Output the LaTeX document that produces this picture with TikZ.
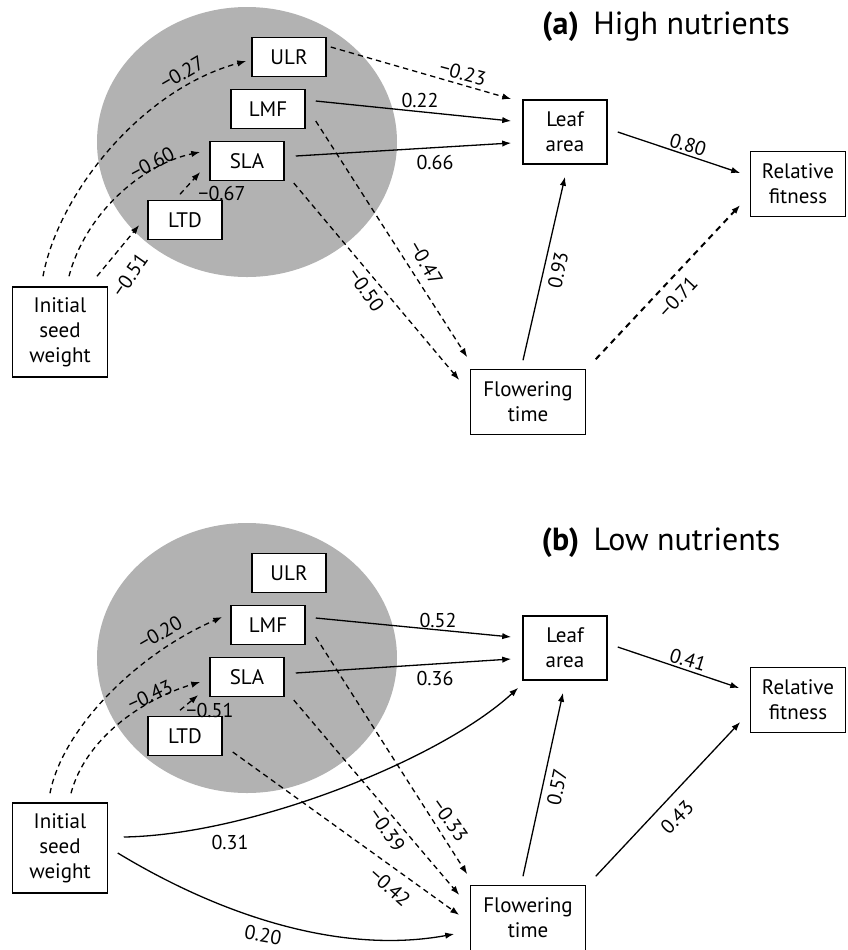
\documentclass[tikz,border=0pt]{standalone}
\usepackage{fontspec}
\setmainfont{PT Sans}
\usetikzlibrary{arrows.meta}

\tikzset{
  box/.style={draw,line width=0.75pt,fill=white,inner sep=0pt,align=center,
    minimum width=37pt,minimum height=19.5pt,font=\fontsize{10.5}{12.5}\selectfont},
  eff/.style={line width=0.65pt,-{Latex[length=4.5pt,width=3.2pt]}},
  negeff/.style={eff,dash pattern=on 2.7pt off 2pt},
  lab/.style={inner sep=0pt,font=\fontsize{10}{11}\selectfont},
  ttl/.style={font=\fontsize{16}{18}\selectfont}
}

\begin{document}
\begin{tikzpicture}[x=0.5pt,y=-0.5pt]
		\useasboundingbox (0,0) rectangle (848,950);
		\foreach \p/\dy in {a/0,b/516}{
			\fill[gray!60] (247,142+\dy) ellipse [x radius=75pt,y radius=67.5pt];
			\node[box] (ULR\p) at (289,57+\dy) {ULR};
			\node[box] (LMF\p) at (268,109+\dy) {LMF};
			\node[box] (SLA\p) at (247,161+\dy) {SLA};
			\node[box] (LTD\p) at (185,220+\dy) {LTD};
			\node[box,minimum width=47.5pt,minimum height=45pt] (ISW\p) at (60,332+\dy) {Initial\\seed\\weight};
			\node[box,minimum width=42pt,minimum height=32pt] (LA\p) at (565,132+\dy) {Leaf\\area};
			\node[box,minimum width=47.5pt,minimum height=32.5pt] (RF\p) at (798,184+\dy) {Relative\\fitness};
			\node[box,minimum width=57.5pt,minimum height=32.5pt] (FT\p) at (528,402+\dy) {Flowering\\time};
		}
		\node[ttl] (titlea) at (666,27) {\textbf{(a)}\hspace{0.45em}High nutrients};
		\node[ttl] (titleb) at (661,543) {\textbf{(b)}\hspace{0.45em}Low nutrients};
		% (a)
		\draw[negeff] ([shift={(-17,-10)}]ISWa.north) .. controls (58,195) and (140,90) .. ([shift={(-5,4)}]ULRa.west);
		\draw[negeff] ([shift={(9,-10)}]ISWa.north) .. controls (85,215) and (140,165) .. ([shift={(-9,-9)}]SLAa.west);
		\draw[negeff] ([shift={(37,-10)}]ISWa.north) -- ([shift={(-8,5)}]LTDa.west);
		\draw[negeff] ([shift={(-5,-5.5)}]LTDa.north) -- ([shift={(-9,11)}]SLAa.west);
		\draw[negeff] ([shift={(4,-10)}]ULRa.east) -- ([shift={(-11,-33)}]LAa.west);
		\draw[eff] ([shift={(10,-8)}]LMFa.east) -- ([shift={(-11,-11)}]LAa.west);
		\draw[eff] ([shift={(11,-5)}]SLAa.east) -- ([shift={(-11,11)}]LAa.west);
		\draw[negeff] ([shift={(10,12)}]LMFa.east) -- ([shift={(-2.5,-11.5)}]FTa.north west);
		\draw[negeff] ([shift={(9,22)}]SLAa.east) -- ([shift={(-10.5,-22)}]FTa.west);
		\draw[eff] ([shift={(-5,-8.5)}]FTa.north) -- ([shift={(0,12)}]LAa.south);
		\draw[eff] ([shift={(10,0)}]LAa.east) -- ([shift={(-9.5,-11)}]RFa.west);
		\draw[negeff,line width=1pt,dash pattern=on 3pt off 2.5pt] ([shift={(9.5,-9.5)}]FTa.north east) -- ([shift={(-9.5,21)}]RFa.west);
		\node[lab,rotate=30] (l27) at (182,73) {−0.27};
		\node[lab,rotate=28] (l60) at (152,163) {−0.60};
		\node[lab] (l67) at (222,193) {−0.67};
		\node[lab,rotate=55] (l51a) at (130,275) {−0.51};
		\node[lab,rotate=-15] (l23) at (463,73) {−0.23};
		\node[lab] (l22) at (420,100) {0.22};
		\node[lab] (l66) at (435,162) {0.66};
		\node[lab,rotate=-60] (l47) at (426,263) {−0.47};
		\node[lab,rotate=-55] (l50) at (366,290) {−0.50};
		\node[lab,rotate=78] (l93) at (558,270) {0.93};
		\node[lab,rotate=-17] (l80) at (688,145) {0.80};
		\node[lab,rotate=47] (l71) at (678,297) {−0.71};
		% (b)
		\draw[negeff] ([shift={(-10,-9)}]ISWb.north) .. controls (62,730) and (135,655) .. ([shift={(-8,-8)}]LMFb.west);
		\draw[negeff] ([shift={(11,-9)}]ISWb.north) .. controls (85,740) and (140,700) .. ([shift={(-9,5)}]SLAb.west);
		\draw[negeff] ([shift={(-5,-5.5)}]LTDb.north) -- ([shift={(-11,18)}]SLAb.west);
		\draw[eff] ([shift={(10,-7)}]LMFb.east) -- ([shift={(-11,-11)}]LAb.west);
		\draw[eff] ([shift={(11,-4)}]SLAb.east) -- ([shift={(-11,11)}]LAb.west);
		\draw[eff] ([shift={(15.5,-11)}]ISWb.east) .. controls (250,835) and (440,760) .. ([shift={(-4,7)}]LAb.south west);
		\draw[eff] ([shift={(9.5,5)}]ISWb.east) .. controls (220,915) and (340,955) .. ([shift={(-15.5,16)}]FTb.west);
		\draw[negeff] ([shift={(10,12)}]LMFb.east) -- ([shift={(-2.5,-10.5)}]FTb.north west);
		\draw[negeff] ([shift={(9,23)}]SLAb.east) -- ([shift={(-10.5,-23)}]FTb.west);
		\draw[negeff] ([shift={(10,16)}]LTDb.east) -- ([shift={(-10.5,-3)}]FTb.west);
		\draw[eff] ([shift={(-5,-8.5)}]FTb.north) -- ([shift={(-2,12)}]LAb.south);
		\draw[eff] ([shift={(10,-1)}]LAb.east) -- ([shift={(-10.5,-12)}]RFb.west);
		\draw[eff] ([shift={(9.5,-8.5)}]FTb.north east) -- ([shift={(-9.5,22)}]RFb.west);
		\node[lab,rotate=30] (l20a) at (160,633) {−0.20};
		\node[lab,rotate=25] (l43a) at (150,695) {−0.43};
		\node[lab] (l51b) at (210,710) {−0.51};
		\node[lab] (l52) at (438,620) {0.52};
		\node[lab] (l36) at (435,678) {0.36};
		\node[lab] (l31) at (230,842) {0.31};
		\node[lab,rotate=-10] (l20b) at (263,935) {0.20};
		\node[lab,rotate=-55] (l39) at (387,830) {−0.39};
		\node[lab,rotate=-42] (l42) at (390,887) {−0.42};
		\node[lab,rotate=-55] (l33) at (450,820) {−0.33};
		\node[lab,rotate=78] (l57) at (557,787) {0.57};
		\node[lab,rotate=-17] (l41) at (688,660) {0.41};
		\node[lab,rotate=45] (l43b) at (677,817) {0.43};
	\end{tikzpicture}
\end{document}
